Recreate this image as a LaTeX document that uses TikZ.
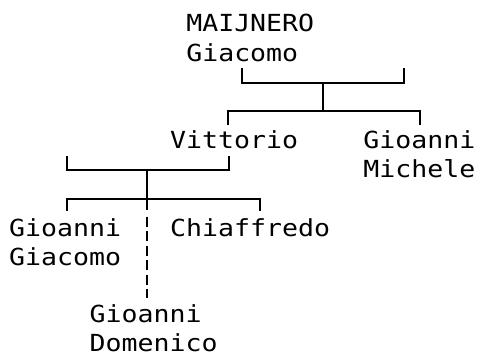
\documentclass[tikz,border=0pt]{standalone}
\usepackage{fontspec}
\newfontfamily\treefont[FakeStretch=1.13]{DejaVu Sans Mono}
\newcommand{\namelines}[2]{\vtop{\hbox{#1}\hbox{#2}}}
\tikzset{
  person/.style={anchor=base west, inner sep=0pt, font=\treefont\fontsize{23.5}{29.2}\selectfont},
  kin/.style={line width=1.9pt},
  issue/.style={kin, dash pattern=on 10pt off 4.5pt}
}

\begin{document}
\begin{tikzpicture}[x=1pt, y=-1pt]
\useasboundingbox (0,0) rectangle (479,355);
% people
\node[person] (giacomo) at (186.1,32) {\namelines{MAIJNERO}{Giacomo}};
\node[person] (vittorio) at (170,148.8) {Vittorio};
\node[person] (michele) at (363.2,148.8) {\namelines{Gioanni}{Michele}};
\node[person] (gioacomo) at (9,236.4) {\namelines{Gioanni}{Giacomo}};
\node[person] (chiaffredo) at (170,236.4) {Chiaffredo};
\node[person] (domenico) at (89.5,322.6) {\namelines{Gioanni}{Domenico}};

% Giacomo's children
\coordinate (gL) at (242,68.3);
\coordinate (gR) at (404.3,68.3);
\coordinate (gSplit) at (323.3,82.7);
\coordinate (gKids) at (323.3,111);
\coordinate (vTick) at (228.3,125.5);
\coordinate (mTick) at (420,125.5);
\draw[kin] (gL) |- (gSplit) -| (gR);
\draw[kin] (gSplit) -- (gKids);
\draw[kin] (vTick) |- (gKids) -| (mTick);

% Vittorio's children
\coordinate (vL) at (67,156.5);
\coordinate (vR) at (228.7,156.5);
\coordinate (vSplit) at (146.7,170);
\coordinate (vKids) at (146.7,199.3);
\coordinate (vStub) at (146.7,210.5);
\coordinate (jgTick) at (67,211);
\coordinate (chTick) at (259.7,211);
\coordinate (vDash) at (146.7,216.7);
\draw[kin] (vL) |- (vSplit) -| (vR);
\draw[kin] (vSplit) -- (vKids) -- (vStub);
\draw[kin] (jgTick) |- (vKids) -| (chTick);
\draw[issue, shorten >=6.6pt] (vDash) -- (vDash |- domenico.north);
\end{tikzpicture}
\end{document}
